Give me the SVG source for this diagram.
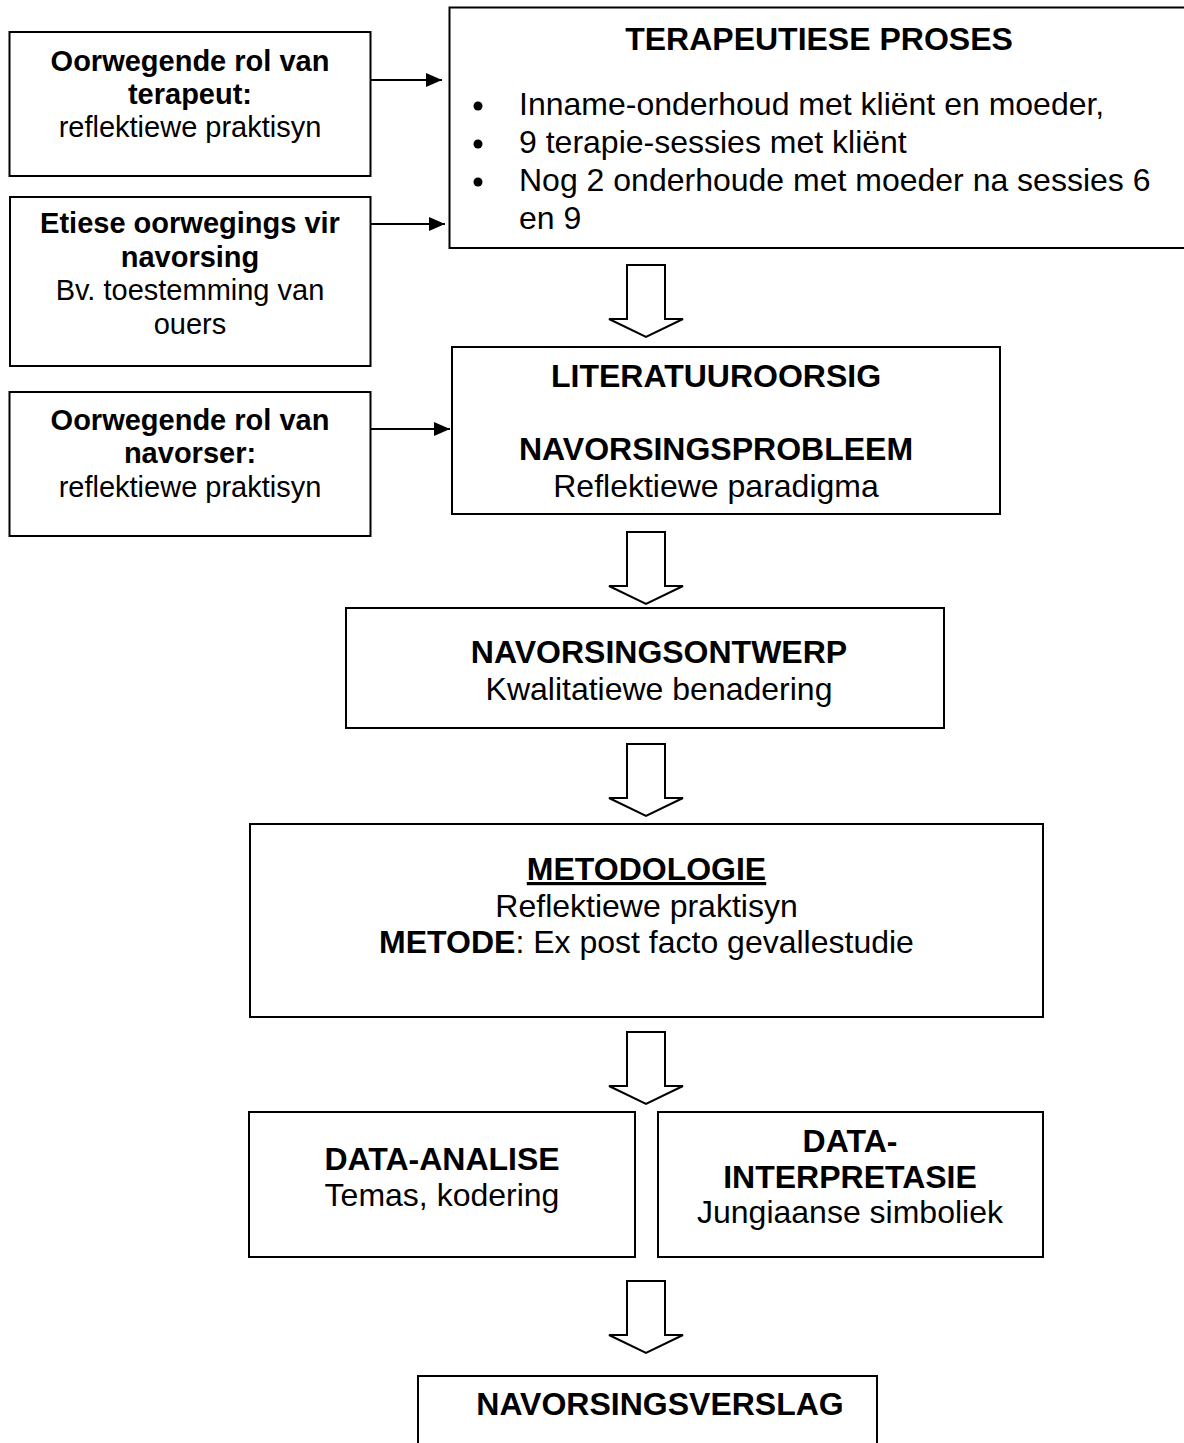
<svg xmlns="http://www.w3.org/2000/svg" width="1184" height="1443" viewBox="0 0 1184 1443">
  <style>
    .box { fill: #fff; stroke: #000; stroke-width: 2; }
    .conn { fill: none; stroke: #000; stroke-width: 2; }
    .hollow { fill: #fff; stroke: #000; stroke-width: 2; stroke-linejoin: miter; }
    text { font-family: "Liberation Sans", Arial, sans-serif; fill: #000; }
    .b { font-size: 32px; font-weight: bold; text-anchor: middle; }
    .r { font-size: 32px; text-anchor: middle; }
    .bs { font-size: 29px; font-weight: bold; text-anchor: middle; }
    .rs { font-size: 29px; text-anchor: middle; }
    .li { font-size: 32px; }
  </style>
  <defs>
    <marker id="ah" viewBox="0 0 16 14" refX="16" refY="7" markerWidth="16" markerHeight="14" markerUnits="userSpaceOnUse" orient="auto">
      <path d="M0,0 L16,7 L0,14 Z" fill="#000"/>
    </marker>
    <polygon id="harrow" points="-19,0 19,0 19,54 37,54 0,72 -37,54 -19,54"/>
  </defs>

  <rect width="1184" height="1443" fill="#fff"/>

  <g id="connectors">
    <line class="conn" x1="370.5" y1="80" x2="442" y2="80" marker-end="url(#ah)"/>
    <line class="conn" x1="370.5" y1="224" x2="445" y2="224" marker-end="url(#ah)"/>
    <line class="conn" x1="370.5" y1="429" x2="450" y2="429" marker-end="url(#ah)"/>
    <use href="#harrow" class="hollow" x="646" y="265"/>
    <use href="#harrow" class="hollow" x="646" y="532"/>
    <use href="#harrow" class="hollow" x="646" y="744"/>
    <use href="#harrow" class="hollow" x="646" y="1032"/>
    <use href="#harrow" class="hollow" x="646" y="1281"/>
  </g>

  <g id="rol-terapeut">
    <rect class="box" x="9.5" y="32" width="361" height="144"/>
    <text class="bs" x="190" y="71">Oorwegende rol van</text>
    <text class="bs" x="190" y="104">terapeut:</text>
    <text class="rs" x="190" y="137">reflektiewe praktisyn</text>
  </g>

  <g id="etiese">
    <rect class="box" x="10" y="197" width="360.5" height="169"/>
    <text class="bs" x="190" y="233">Etiese oorwegings vir</text>
    <text class="bs" x="190" y="266.5">navorsing</text>
    <text class="rs" x="190" y="300">Bv. toestemming van</text>
    <text class="rs" x="190" y="333.5">ouers</text>
  </g>

  <g id="rol-navorser">
    <rect class="box" x="9.5" y="392" width="361" height="144"/>
    <text class="bs" x="190" y="430">Oorwegende rol van</text>
    <text class="bs" x="190" y="463">navorser:</text>
    <text class="rs" x="190" y="497">reflektiewe praktisyn</text>
  </g>

  <g id="terapeutiese-proses">
    <rect class="box" x="449.5" y="7.5" width="745" height="240.5"/>
    <text class="b" x="819" y="50">TERAPEUTIESE PROSES</text>
    <circle cx="478" cy="106" r="4.5" fill="#000"/>
    <circle cx="478" cy="144" r="4.5" fill="#000"/>
    <circle cx="478" cy="182" r="4.5" fill="#000"/>
    <text class="li" x="519" y="115">Inname-onderhoud met kliënt en moeder,</text>
    <text class="li" x="519" y="153">9 terapie-sessies met kliënt</text>
    <text class="li" x="519" y="191">Nog 2 onderhoude met moeder na sessies 6</text>
    <text class="li" x="519" y="229">en 9</text>
  </g>

  <g id="literatuuroorsig">
    <rect class="box" x="452" y="347" width="548" height="167"/>
    <text class="b" x="716" y="387">LITERATUUROORSIG</text>
    <text class="b" x="716" y="460">NAVORSINGSPROBLEEM</text>
    <text class="r" x="716" y="497">Reflektiewe paradigma</text>
  </g>

  <g id="navorsingsontwerp">
    <rect class="box" x="346" y="608" width="598" height="120"/>
    <text class="b" x="659" y="663">NAVORSINGSONTWERP</text>
    <text class="r" x="659" y="700">Kwalitatiewe benadering</text>
  </g>

  <g id="metodologie">
    <rect class="box" x="250" y="824" width="793" height="193"/>
    <text class="b" x="646.5" y="880" text-decoration="underline">METODOLOGIE</text>
    <text class="r" x="646.5" y="917">Reflektiewe praktisyn</text>
    <text class="r" x="646.5" y="953"><tspan font-weight="bold">METODE</tspan>: Ex post facto gevallestudie</text>
  </g>

  <g id="data-analise">
    <rect class="box" x="249" y="1112" width="386" height="145"/>
    <text class="b" x="442" y="1170">DATA-ANALISE</text>
    <text class="r" x="442" y="1206">Temas, kodering</text>
  </g>

  <g id="data-interpretasie">
    <rect class="box" x="658" y="1112" width="385" height="145"/>
    <text class="b" x="850" y="1152">DATA-</text>
    <text class="b" x="850" y="1188">INTERPRETASIE</text>
    <text class="r" x="850" y="1223">Jungiaanse simboliek</text>
  </g>

  <g id="navorsingsverslag">
    <rect class="box" x="418" y="1376" width="459" height="80"/>
    <text class="b" x="660" y="1415">NAVORSINGSVERSLAG</text>
  </g>
</svg>
